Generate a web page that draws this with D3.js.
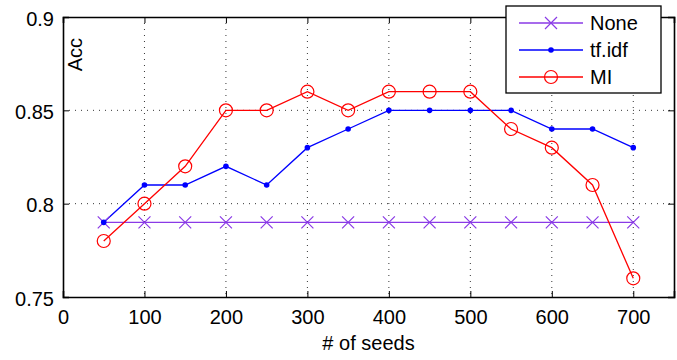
<html>
<head>
<script src="https://d3js.org/d3.v7.min.js"></script>
<style>
  body { margin: 0; background: #fff; }
  text { font-family: "Liberation Sans", Arial, sans-serif; }
</style>
</head>
<body>
<div id="chart"></div>
<script>
// data
var seeds = [50, 100, 150, 200, 250, 300, 350, 400, 450, 500, 550, 600, 650, 700];
var noneAcc = [0.79, 0.79, 0.79, 0.79, 0.79, 0.79, 0.79, 0.79, 0.79, 0.79, 0.79, 0.79, 0.79, 0.79];
var tfidfAcc = [0.79, 0.81, 0.81, 0.82, 0.81, 0.83, 0.84, 0.85, 0.85, 0.85, 0.85, 0.84, 0.84, 0.83];
var miAcc = [0.78, 0.80, 0.82, 0.85, 0.85, 0.86, 0.85, 0.86, 0.86, 0.86, 0.84, 0.83, 0.81, 0.76];
var xTicks = [0, 100, 200, 300, 400, 500, 600, 700];
var yTicks = [0.75, 0.8, 0.85, 0.9];
var seriesNames = ["None", "tf.idf", "MI"];

var W = 677, H = 360;
var margin = {top: 17, right: 3, bottom: 63, left: 63};
var width = W - margin.left - margin.right;
var height = H - margin.top - margin.bottom;
var fs = 20;

var svg = d3.select("#chart").append("svg")
    .attr("width", W).attr("height", H);
var g = svg.append("g")
    .attr("transform", "translate(" + margin.left + "," + margin.top + ")");

var x = d3.scaleLinear().domain([0, 750]).range([0, width]);
var y = d3.scaleLinear().domain([0.75, 0.9]).range([height, 0]);

// dotted grid
g.selectAll(".gx").data(xTicks.slice(1)).enter().append("line")
    .attr("x1", function(d) { return x(d); }).attr("x2", function(d) { return x(d); })
    .attr("y1", 0).attr("y2", height)
    .attr("stroke", "#000").attr("stroke-width", 0.8).attr("stroke-dasharray", "1,5");
g.selectAll(".gy").data(yTicks.slice(1, 3)).enter().append("line")
    .attr("y1", function(d) { return y(d); }).attr("y2", function(d) { return y(d); })
    .attr("x1", 0).attr("x2", width)
    .attr("stroke", "#000").attr("stroke-width", 0.8).attr("stroke-dasharray", "1,5");

// axes, ticks pointing inward like matlab
var xAxis = g.append("g").attr("transform", "translate(0," + height + ")")
    .call(d3.axisBottom(x).tickValues(xTicks).tickSize(-6).tickPadding(13).tickFormat(d3.format("d")));
var xTop = g.append("g")
    .call(d3.axisTop(x).tickValues(xTicks).tickSize(-6).tickFormat(""));
var yAxis = g.append("g")
    .call(d3.axisLeft(y).tickValues(yTicks).tickSize(-6).tickPadding(9).tickFormat(function(d) { return String(d); }));
var yRight = g.append("g").attr("transform", "translate(" + width + ",0)")
    .call(d3.axisRight(y).tickValues(yTicks).tickSize(-6).tickFormat(""));

[xAxis, xTop, yAxis, yRight].forEach(function(a) {
    a.select(".domain").attr("stroke-width", 1.6);
    a.selectAll(".tick line").attr("stroke-width", 1);
    a.selectAll("text").attr("font-size", fs).attr("fill", "#000")
        .style("font-family", "'Liberation Sans', Arial, sans-serif");
});
xAxis.selectAll(".tick text").attr("dy", "0.71em");
yAxis.selectAll(".tick text").attr("dy", "0.4em");

// labels
g.append("text").attr("x", width / 2).attr("y", height + 53)
    .attr("text-anchor", "middle").attr("font-size", fs).text("# of seeds");
g.append("text").attr("transform", "translate(19,21) rotate(-90)")
    .attr("text-anchor", "end").attr("font-size", fs).text("Acc");

var colors = ["#8a3ae6", "#0000ff", "#ff0000"];
var allSeries = [noneAcc, tfidfAcc, miAcc];

var line = d3.line()
    .x(function(d, i) { return x(seeds[i]); })
    .y(function(d) { return y(d); });

allSeries.forEach(function(vals, k) {
    g.append("path").datum(vals).attr("d", line)
        .attr("fill", "none").attr("stroke", colors[k]).attr("stroke-width", 1.3);
});

function drawMarker(sel, k, cx, cy) {
    if (k === 0) {
        var s = 6;
        sel.append("path")
            .attr("d", "M" + (cx - s) + "," + (cy - s) + "L" + (cx + s) + "," + (cy + s) +
                "M" + (cx - s) + "," + (cy + s) + "L" + (cx + s) + "," + (cy - s))
            .attr("stroke", colors[k]).attr("stroke-width", 1.2).attr("fill", "none");
    } else if (k === 1) {
        sel.append("circle").attr("cx", cx).attr("cy", cy).attr("r", 2.8).attr("fill", colors[k]);
    } else {
        sel.append("circle").attr("cx", cx).attr("cy", cy).attr("r", 6.5)
            .attr("fill", "none").attr("stroke", colors[k]).attr("stroke-width", 1.2);
    }
}

allSeries.forEach(function(vals, k) {
    vals.forEach(function(v, i) { drawMarker(g, k, x(seeds[i]), y(v)); });
});

// legend
var legend = svg.append("g").attr("transform", "translate(506,6)");
legend.append("rect").attr("width", 155).attr("height", 87)
    .attr("fill", "#fff").attr("stroke", "#000").attr("stroke-width", 1.3);
seriesNames.forEach(function(name, k) {
    var ly = 17 + k * 27;
    legend.append("line").attr("x1", 13).attr("x2", 77).attr("y1", ly).attr("y2", ly)
        .attr("stroke", colors[k]).attr("stroke-width", 1.3);
    drawMarker(legend, k, 45, ly);
    legend.append("text").attr("x", 84).attr("y", ly).attr("dy", "0.36em")
        .attr("font-size", fs).text(name);
});
</script>
</body>
</html>
